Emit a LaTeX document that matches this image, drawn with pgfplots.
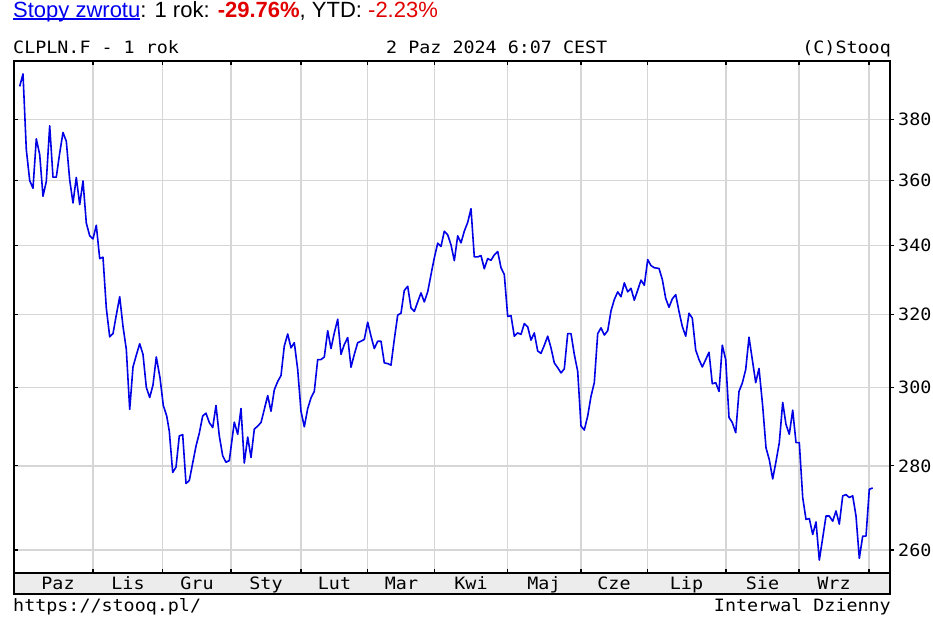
\documentclass[border=0pt]{standalone}
\usepackage{pgfplots}
\usepackage{pgfplotstable}
\pgfplotsset{compat=1.18}
\usepackage{fontspec}
\setmainfont{Liberation Sans}
\newfontfamily\monof[FakeStretch=1.08]{DejaVu Sans Mono}
\definecolor{lineblue}{RGB}{0,0,230}
\definecolor{gridgray}{RGB}{214,214,214}
\definecolor{bandgray}{RGB}{236,236,236}
\definecolor{linkblue}{RGB}{0,0,238}
\definecolor{retred}{RGB}{225,0,0}
\newcommand\ul[1]{\setbox0\hbox{#1}\rlap{\rule[-2.2bp]{\wd0}{1.4bp}}\box0}

\pgfplotstableread{
x y
19.7 391.2
23 395.5
26.3 370.0
29.7 360.0
33 357.6
36.3 373.5
39.7 368.4
43 355.1
46.3 359.7
49.7 377.8
53 361.1
56.3 361.1
59.7 368.9
63 375.6
66.3 372.7
69.7 360.2
73 353.0
76.3 361.0
79.7 352.5
83 359.9
86.3 346.8
89.7 342.9
93 342.0
96.3 346.1
99.7 336.1
103 336.5
106.3 321.8
109.7 313.7
113 314.6
116.3 319.8
119.7 325.0
123 316.6
126.3 310.3
129.7 294.3
133 305.5
136.3 308.7
139.7 311.8
143 308.9
146.3 300.1
149.7 297.4
153 300.7
156.3 308.2
160 302.6
163.3 295.3
166.7 292.6
169.3 288.7
172.7 278.4
176 279.7
179.3 287.5
182.7 287.8
186 275.7
189.3 276.4
192.7 280.7
196 284.9
199.3 288.2
202.7 292.6
206 293.3
209.3 290.9
212.7 289.6
216 295.3
219.3 287.5
222.7 282.5
226 280.9
229.3 281.3
234.3 291.0
237.7 287.9
241 294.5
244.3 280.7
247.7 287.2
251 282.1
254.3 289.2
257.7 290.0
261 290.9
264.3 294.3
267.7 297.9
271 293.8
274.3 299.4
277.7 301.6
281 303.2
284.3 311.2
287.7 314.5
291 310.7
294.3 312.1
297.7 304.8
301 293.8
304.3 289.8
307.7 294.5
311 297.3
314.3 299.0
317.7 307.5
321 307.5
324.3 308.2
327.7 315.4
331 310.5
334.3 314.8
337.7 318.6
341 308.9
344.3 311.6
347.7 313.5
351 305.4
354.3 308.9
357.7 312.1
361 312.5
364.3 313.0
367.7 317.8
371 313.9
374.3 310.5
377.7 312.5
381 312.5
384.3 306.6
387.7 306.4
391 306.0
394.3 313.0
397.7 319.8
401 320.3
404.3 326.8
407.7 328.0
411 321.8
414.3 320.8
417.7 323.5
421 326.1
424.3 323.5
427.7 326.4
431 331.4
434.3 336.3
437.7 340.7
441 339.7
444.3 344.3
447.7 343.2
451 340.2
454.3 335.5
457.7 342.9
461 340.8
464.3 344.3
467.7 347.0
471 351.2
474.3 336.6
477.7 336.6
481 337.0
484.3 333.1
487.7 336.1
491 335.6
494.3 337.2
497.7 338.2
501 333.4
504.3 331.4
507.7 319.4
511 319.6
514.3 313.9
517.7 314.8
521 314.4
524.3 317.4
527.7 316.5
531 312.8
534.3 314.8
537.7 309.8
541 309.2
544.3 311.4
547.7 313.9
551 310.7
554.3 306.6
557.7 305.3
561 303.9
564.3 305.0
567.7 314.6
571 314.6
574.3 308.9
577.7 304.3
581 290.0
584.3 289.0
587.7 292.6
591 297.7
594.3 301.3
597.7 314.6
601 316.2
604.3 314.2
607.7 315.4
611 321.0
614.3 324.2
617.7 326.4
621 325.0
624.3 329.0
627.7 326.4
631 327.4
634.3 324.0
637.7 326.9
641 329.8
644.3 328.3
647.7 335.8
651 334.0
654.3 333.4
659 333.2
662.3 330.0
665.7 324.5
669 322.0
672.3 324.4
675.7 325.6
679 320.8
682.3 316.6
685.7 313.9
689 320.3
692.3 318.9
695.7 310.1
699 307.5
702.3 305.5
705.7 307.5
709 309.5
712.3 301.0
715.7 301.3
719 299.0
722.3 311.4
725.7 307.5
729 292.2
732.3 290.9
735.7 288.3
739 299.0
742.3 301.2
745.7 304.8
749 313.6
752.3 307.5
755.7 301.3
759 305.1
762.7 295.1
766 284.5
769.3 281.5
772.7 276.8
776 281.1
779.3 285.8
782.7 296.1
786 290.4
789.3 287.9
792.7 294.1
796 285.8
799.3 285.8
802.7 272.3
806 267.1
809.3 267.3
812.7 263.6
816 266.5
819.3 257.7
822.7 262.8
826 267.9
829.3 267.9
832.7 266.7
836 269.1
839.3 266.0
842.7 272.7
846 273.0
849.3 272.3
852.7 272.7
856 267.9
859.3 258.1
862.7 263.2
866 263.2
869.3 274.3
872.7 274.6
}\pricetable

\begin{document}
\begin{tikzpicture}
\path[use as bounding box] (0bp,0bp) rectangle (933bp,618bp);
\fill[bandgray] (14bp,24bp) rectangle (890bp,45bp);
\draw[line width=1.5bp] (14bp,24bp) rectangle (890bp,45bp);
\begin{axis}[
  at={(14bp,45bp)}, anchor=south west,
  scale only axis, width=876bp, height=512bp,
  xmin=14, xmax=890,
  ymode=log, ymin=254.8, ymax=400,
  axis line style={black, line width=1.5bp},
  xtick={93,162.7,231,301,367.7,434.5,507.5,581,647.5,726,799,869},
  xticklabels={},
  xtick align=inside,
  xmajorgrids,
  extra x ticks={58,128,197,266,334.5,401.5,471,544,614,686.5,762.5,834},
  extra x tick labels={Paz,Lis,Gru,Sty,Lut,Mar,Kwi,Maj,Cze,Lip,Sie,Wrz},
  extra x tick style={major tick length=0pt, xmajorgrids=false,
     xticklabel style={anchor=base, inner sep=0pt, yshift=-17bp}},
  ytick={260,280,300,320,340,360,380},
  yticklabels={260,280,300,320,340,360,380},
  ytick pos=right, ytick align=outside,
  ymajorgrids, yminorticks=false,
  major tick length=4bp,
  tick style={black, line width=1.2bp},
  grid style={gridgray, line width=1.4bp},
  tick label style={font=\monof\fontsize{17bp}{19bp}\selectfont},
  yticklabel style={anchor=west, inner sep=0pt, xshift=4bp},
  /pgf/number format/assume math mode=true,
]
\addplot[lineblue, line width=1.6bp, mark=none, line join=round] table[x=x,y=y]{\pricetable};
\end{axis}
\begin{axis}[
  at={(14bp,45bp)}, anchor=south west,
  scale only axis, width=876bp, height=512bp,
  xmin=14, xmax=890,
  ymode=log, ymin=254.8, ymax=400,
  axis line style={draw=none},
  xtick=\empty,
  ytick={260,280,300,320,340,360,380},
  yticklabels={},
  ytick pos=left, ytick align=inside, yminorticks=false,
  major tick length=3.5bp,
  tick style={black, line width=1.2bp},
]
\end{axis}
\node[anchor=base west, inner sep=0pt, font=\fontsize{22bp}{26bp}\selectfont] at (13bp,600.5bp)
  {\textcolor{linkblue}{\ul{Stopy zwrotu}}: 1 rok: \textcolor{retred}{\textbf{-29.76\%}}, YTD: \textcolor{retred}{-2.23\%}};
\node[anchor=base west, inner sep=0pt, font=\monof\fontsize{17bp}{19bp}\selectfont] at (13bp,564bp) {CLPLN.F - 1 rok};
\node[anchor=base west, inner sep=0pt, font=\monof\fontsize{17bp}{19bp}\selectfont] at (386bp,564bp) {2 Paz 2024 6:07 CEST};
\node[anchor=base east, inner sep=0pt, font=\monof\fontsize{17bp}{19bp}\selectfont] at (891bp,564bp) {(C)Stooq};
\node[anchor=base west, inner sep=0pt, font=\monof\fontsize{17bp}{19bp}\selectfont] at (13bp,7bp) {https://stooq.pl/};
\node[anchor=base east, inner sep=0pt, font=\monof\fontsize{17bp}{19bp}\selectfont] at (891bp,7bp) {Interwal Dzienny};
\end{tikzpicture}
\end{document}
